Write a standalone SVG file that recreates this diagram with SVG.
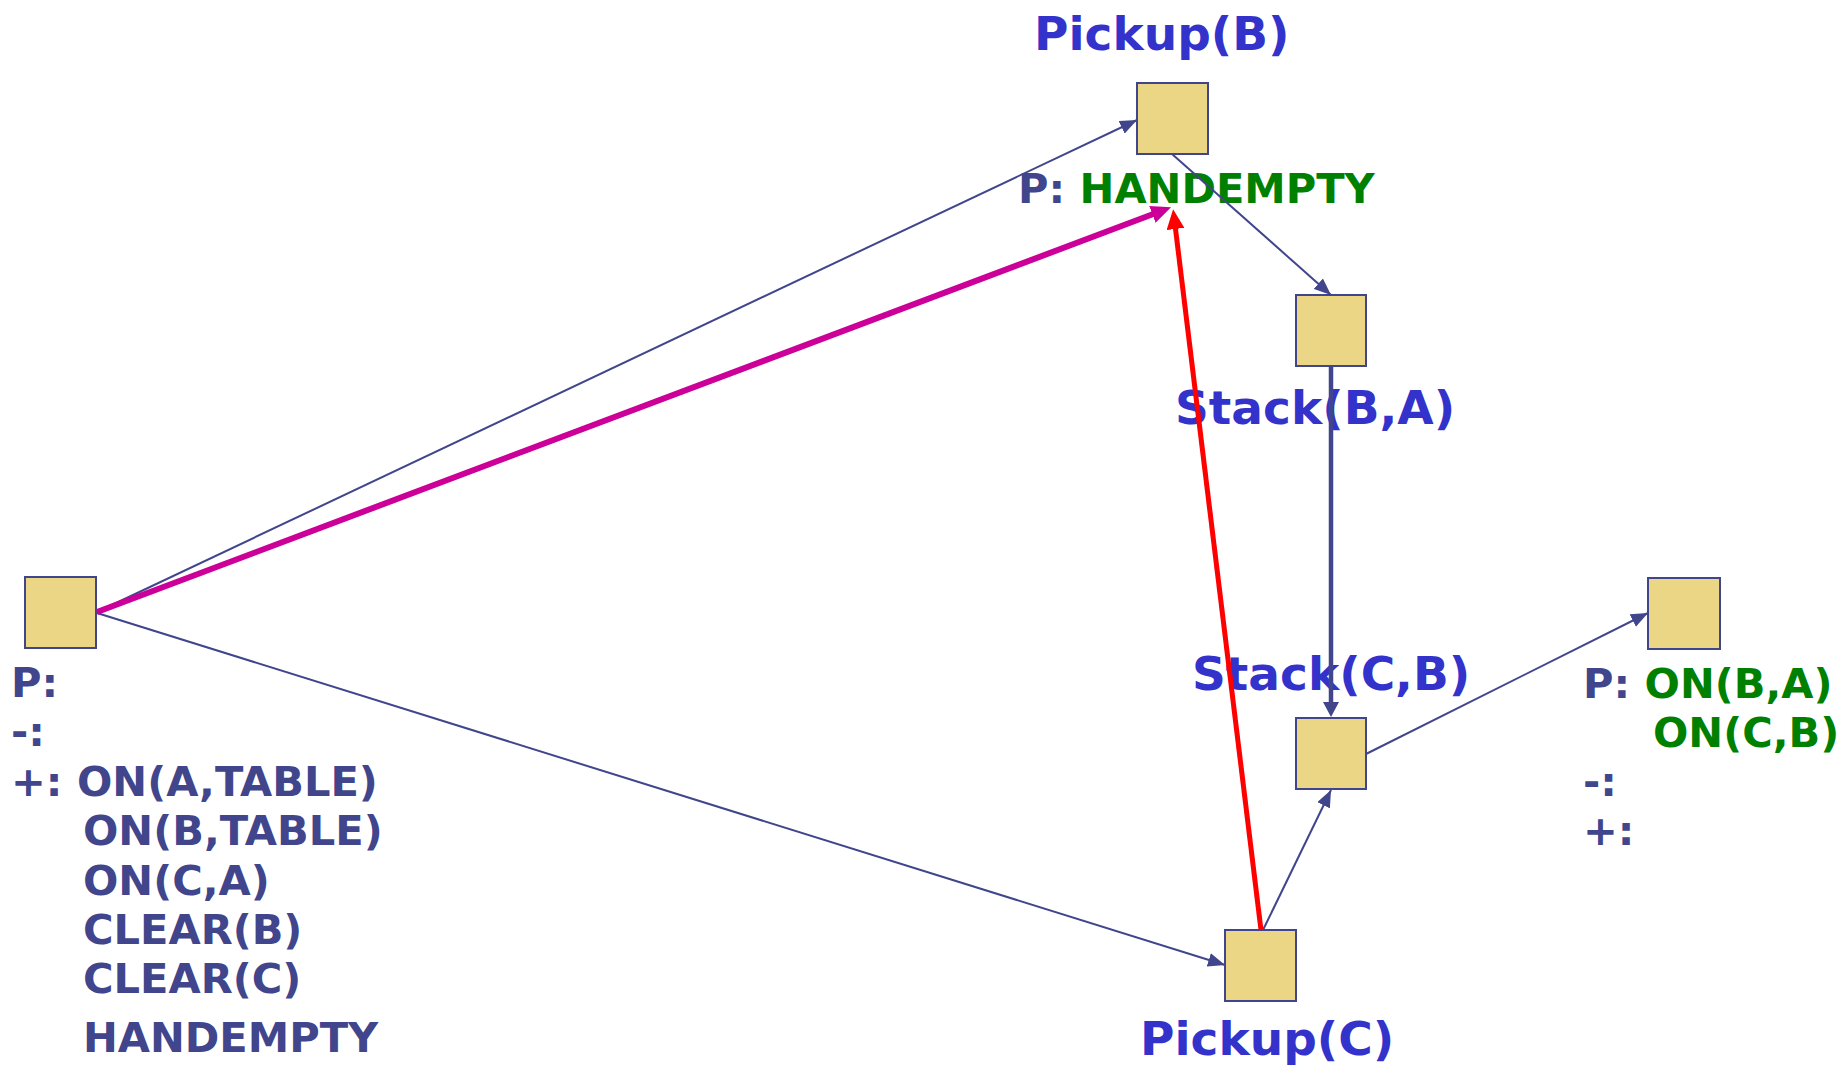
<svg xmlns="http://www.w3.org/2000/svg" width="1843" height="1066" viewBox="0 0 1843 1066">
<style>
text{font-family:"DejaVu Sans","Verdana",sans-serif;font-weight:bold}
.box{fill:#EAD685;stroke:#40458C;stroke-width:2}
.lbl{fill:#3333CC;font-size:47px}
.dk{fill:#40458C;font-size:41.6px}
.gr{fill:#008000}
.thin{stroke:#40458C;stroke-width:2;fill:none}
</style>
<defs>
<marker id="a" markerUnits="userSpaceOnUse" markerWidth="18" markerHeight="14" refX="17" refY="7" orient="auto"><path d="M0,0 L17,7 L0,14 z" fill="#40458C"/></marker>
<marker id="av" markerUnits="userSpaceOnUse" markerWidth="16" markerHeight="16" refX="1" refY="8" orient="auto"><path d="M0,0 L15,8 L0,16 z" fill="#40458C"/></marker>
<marker id="am" markerUnits="userSpaceOnUse" markerWidth="21" markerHeight="18" refX="1" refY="9" orient="auto"><path d="M0,0 L20,9 L0,18 z" fill="#CC0099"/></marker>
<marker id="ar" markerUnits="userSpaceOnUse" markerWidth="21" markerHeight="18" refX="1" refY="9" orient="auto"><path d="M0,0 L20,9 L0,18 z" fill="#FF0000"/></marker>
</defs>
<g id="start">
<rect class="box" x="25" y="577" width="71" height="71"/>
<text class="dk" x="11" y="697">P:</text>
<text class="dk" x="11" y="746">-:</text>
<text class="dk" x="11" y="796">+: ON(A,TABLE)</text>
<text class="dk" x="83" y="845">ON(B,TABLE)</text>
<text class="dk" x="83" y="895">ON(C,A)</text>
<text class="dk" x="83" y="944">CLEAR(B)</text>
<text class="dk" x="83" y="993">CLEAR(C)</text>
<text class="dk" x="83" y="1052">HANDEMPTY</text>
</g>
<g id="pickupB">
<rect class="box" x="1137" y="83" width="71" height="71"/>
<text class="lbl" x="1034" y="50">Pickup(B)</text>
<text class="dk" x="1018" y="203">P: <tspan class="gr">HANDEMPTY</tspan></text>
</g>
<g id="stackBA">
<rect class="box" x="1296" y="295" width="70" height="71"/>
<text class="lbl" x="1175" y="424">Stack(B,A)</text>
</g>
<g id="stackCB">
<rect class="box" x="1296" y="718" width="70" height="71"/>
<text class="lbl" x="1192" y="690">Stack(C,B)</text>
</g>
<g id="pickupC">
<rect class="box" x="1225" y="930" width="71" height="71"/>
<text class="lbl" x="1140" y="1055">Pickup(C)</text>
</g>
<g id="goal">
<rect class="box" x="1648" y="578" width="72" height="71"/>
<text class="dk" x="1583" y="698">P: <tspan class="gr">ON(B,A)</tspan></text>
<text class="dk gr" x="1653" y="747">ON(C,B)</text>
<text class="dk" x="1583" y="796">-:</text>
<text class="dk" x="1583" y="845">+:</text>
</g>
<g id="connectors">
<line class="thin" x1="97" y1="612" x2="1137" y2="120" marker-end="url(#a)"/>
<line class="thin" x1="97" y1="613" x2="1225" y2="965" marker-end="url(#a)"/>
<line class="thin" x1="1172" y1="154" x2="1331" y2="295" marker-end="url(#a)"/>
<line class="thin" x1="1263" y1="930" x2="1331" y2="790" marker-end="url(#a)"/>
<line class="thin" x1="1366" y1="754" x2="1648" y2="613" marker-end="url(#a)"/>
<line x1="1331" y1="366" x2="1331" y2="703" stroke="#40458C" stroke-width="4.5" marker-end="url(#av)"/>
<line x1="97" y1="612" x2="1153.3" y2="214" stroke="#CC0099" stroke-width="6" marker-end="url(#am)"/>
<line x1="1261" y1="930" x2="1175.4" y2="228" stroke="#FF0000" stroke-width="5" marker-end="url(#ar)"/>
</g>
</svg>
